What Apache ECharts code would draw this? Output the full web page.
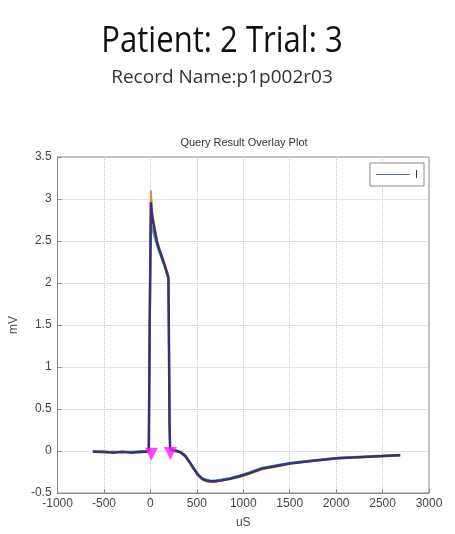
<!DOCTYPE html>
<html>
<head>
<meta charset="utf-8">
<script src="https://cdn.jsdelivr.net/npm/echarts@6/dist/echarts.min.js"></script>
<style>
  html, body { margin: 0; padding: 0; background: #fff; }
  #chart { width: 455px; height: 534px; }
</style>
</head>
<body>
<div id="chart"></div>
<script>
// Sample times (uS) of the overlaid beats
const timeUs = [-620, -500, -400, -300, -200, -100, -40, -18, -8, 5, 18, 72, 107, 150, 179, 194, 200, 206, 212, 225,
  287, 330, 376, 420, 466, 510, 556, 600, 645, 700, 760, 860, 960, 1075, 1200, 1398, 1505, 1753, 2010, 2290, 2500, 2690];

// Main (dark) trace, mV
const traceMain = [-0.01, -0.01, -0.02, -0.01, -0.02, -0.01, -0.01, 0.0, 1.5, 2.96, 2.79, 2.48, 2.36, 2.22, 2.12, 2.06, 1.2, 0.3, 0.02, 0.0,
  0.0, -0.02, -0.06, -0.13, -0.21, -0.28, -0.33, -0.35, -0.36, -0.36, -0.35, -0.33, -0.3, -0.26, -0.21, -0.17, -0.15, -0.115, -0.085, -0.07, -0.06, -0.05];

// Secondary overlaid traces, mV
const traceWarm = [-0.01, -0.02, -0.01, -0.02, -0.01, -0.02, -0.01, 0.02, 1.7, 3.1, 2.84, 2.5, 2.38, 2.24, 2.14, 2.08, 1.25, 0.35, 0.03, 0.0,
  -0.01, -0.02, -0.07, -0.14, -0.22, -0.29, -0.34, -0.36, -0.37, -0.37, -0.35, -0.33, -0.31, -0.27, -0.22, -0.18, -0.15, -0.12, -0.09, -0.075, -0.065, -0.055];
const traceCool = [0.0, -0.01, -0.01, -0.01, -0.01, 0.0, 0.0, 0.01, 1.3, 2.7, 2.7, 2.44, 2.33, 2.2, 2.1, 2.04, 1.15, 0.28, 0.02, 0.0,
  0.0, -0.01, -0.05, -0.12, -0.2, -0.27, -0.32, -0.34, -0.35, -0.35, -0.34, -0.32, -0.29, -0.25, -0.2, -0.16, -0.14, -0.11, -0.08, -0.065, -0.055, -0.045];

// Detected onset/offset markers
const markerTimes = [10, 215];
const markerValues = [-0.04, -0.03];

// Axis ticks
const xTicks = { min: -1000, max: 3000, step: 500 };
const yTicks = { min: -0.5, max: 3.5, step: 0.5 };

const pair = (xs, ys) => xs.map((x, i) => [x, ys[i]]);

const chart = echarts.init(document.getElementById('chart'), null, { renderer: 'canvas' });

const labelFont = 'Liberation Sans';

chart.setOption({
  backgroundColor: '#ffffff',
  animation: false,
  grid: {
    left: 57, right: 26, top: 157, bottom: 40,
    show: true, borderColor: '#8a8a8a', borderWidth: 1, backgroundColor: '#ffffff'
  },
  graphic: [
    {
      type: 'text', x: 222, y: 23, scaleX: 0.84,
      style: { text: 'Patient: 2 Trial: 3', font: '37px "Open Sans"', fill: '#111', align: 'center', verticalAlign: 'top' }
    },
    {
      type: 'text', x: 222, y: 68,
      style: { text: 'Record Name:p1p002r03', font: '19px "Open Sans"', fill: '#333', align: 'center', verticalAlign: 'top' }
    },
    {
      type: 'text', x: 244, y: 143,
      style: { text: 'Query Result Overlay Plot', font: '11px "Liberation Sans"', fill: '#333', align: 'center', verticalAlign: 'middle' }
    }
  ],
  legend: {
    data: ['I'],
    right: 31, top: 163,
    orient: 'vertical',
    backgroundColor: '#fff',
    borderColor: '#8a8a8a', borderWidth: 1, borderRadius: 0,
    padding: [6, 6, 6, 6],
    itemWidth: 34, itemHeight: 1, itemGap: 4,
    icon: 'rect',
    textStyle: { fontSize: 11, color: '#333', fontFamily: labelFont }
  },
  xAxis: {
    type: 'value',
    min: xTicks.min, max: xTicks.max, interval: xTicks.step,
    name: 'uS', nameLocation: 'middle', nameGap: 24,
    nameTextStyle: { fontSize: 12, color: '#444', fontFamily: labelFont },
    axisLine: { show: true, onZero: false, lineStyle: { color: '#8a8a8a' } },
    axisTick: { show: true, inside: true, length: 4, lineStyle: { color: '#8a8a8a' } },
    axisLabel: { fontSize: 12, color: '#444', fontFamily: labelFont, margin: 5, formatter: v => String(v) },
    splitLine: { show: true, lineStyle: { color: '#c4c4c4', type: 'dotted', width: 1 } }
  },
  yAxis: {
    type: 'value',
    min: yTicks.min, max: yTicks.max, interval: yTicks.step,
    name: 'mV', nameLocation: 'middle', nameGap: 30, nameRotate: 90,
    nameTextStyle: { fontSize: 12, color: '#444', fontFamily: labelFont },
    axisLine: { show: true, onZero: false, lineStyle: { color: '#8a8a8a' } },
    axisTick: { show: true, inside: true, length: 4, lineStyle: { color: '#8a8a8a' } },
    axisLabel: { fontSize: 12, color: '#444', fontFamily: labelFont, margin: 6, formatter: v => String(v) },
    splitLine: { show: true, lineStyle: { color: '#c4c4c4', type: 'dotted', width: 1 } }
  },
  series: [
    {
      name: 'warm', type: 'line', data: pair(timeUs, traceWarm), showSymbol: false,
      lineStyle: { color: '#e08a2a', width: 2 }, z: 2
    },
    {
      name: 'cool', type: 'line', data: pair(timeUs, traceCool), showSymbol: false,
      lineStyle: { color: '#3aa6c8', width: 2 }, z: 2
    },
    {
      name: 'I', type: 'line', data: pair(timeUs, traceMain), showSymbol: false,
      itemStyle: { color: '#5a6fb5' },
      lineStyle: { color: '#3b2f78', width: 2.5 }, z: 3
    },
    {
      name: 'markers', type: 'scatter', data: pair(markerTimes, markerValues),
      symbol: 'triangle', symbolRotate: 180, symbolSize: 13,
      itemStyle: { color: '#ff19ff' }, z: 4
    }
  ]
});
</script>
</body>
</html>
